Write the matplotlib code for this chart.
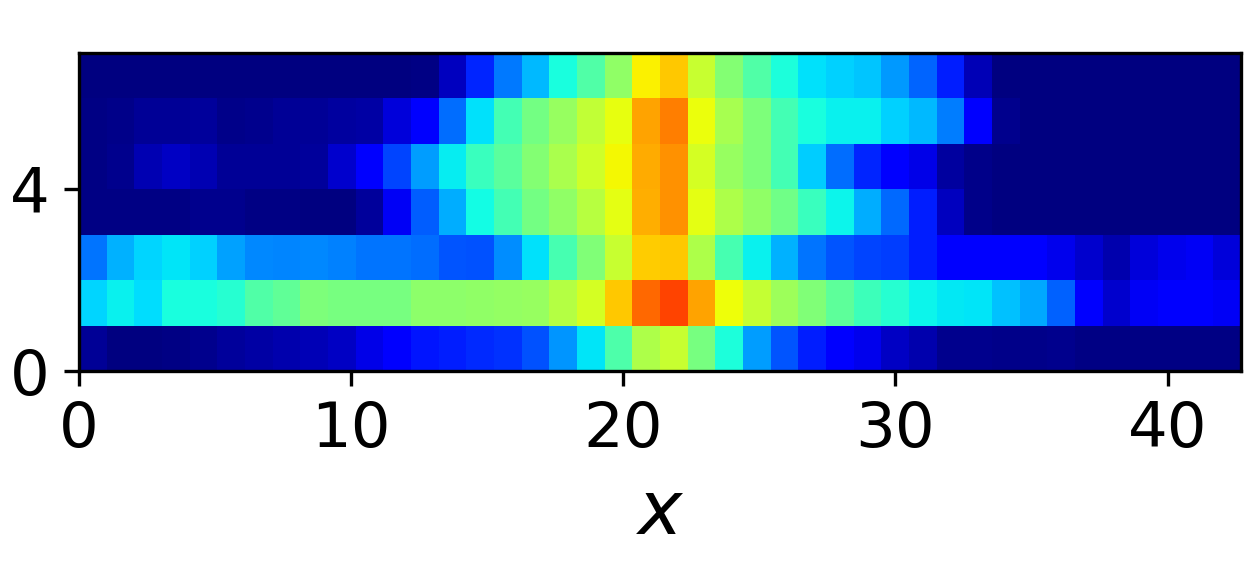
import matplotlib
matplotlib.use("Agg")
import matplotlib.pyplot as plt
import numpy as np

# values, as fractions of the colour scale
row_0 = [.02, 0, 0, .005, .015, .025, .035, .04, .05, .06, .09, .11, .145, .155, .165, .175, .205, .27, .35, .445, .56,
         .593, .495, .385, .28, .21, .155, .11, .095, .06, .04, .015, .015, .01, .01, .012, .005, .005, .005, .005, .005, .005]
row_1 = [.335, .36, .34, .38, .38, .395, .447, .465, .5, .495, .495, .495, .52, .52, .525, .53, .535, .567, .608, .698, .80,
         .836, .735, .64, .588, .54, .505, .462, .425, .395, .365, .355, .35, .315, .29, .22, .11, .07, .105, .11, .11, .105]
row_2 = [.24, .30, .335, .35, .33, .285, .26, .255, .26, .25, .24, .24, .233, .21, .205, .265, .345, .435, .505, .593, .695,
         .698, .56, .435, .36, .30, .24, .21, .195, .185, .155, .115, .11, .11, .11, .095, .07, .04, .08, .095, .105, .08]
row_3 = [.005, .005, .005, .005, .015, .015, .005, .005, 0, 0, .025, .105, .215, .295, .372, .43, .49, .525, .572, .625, .725,
         .757, .625, .562, .525, .485, .42, .366, .295, .23, .155, .055, .01, 0, 0, 0, 0, 0, 0, 0, 0, 0]
row_4 = [.005, .015, .045, .06, .045, .02, .02, .02, .025, .07, .11, .195, .28, .358, .42, .46, .51, .557, .598, .648, .73,
         .757, .608, .535, .5, .43, .325, .233, .164, .115, .09, .03, .01, 0, 0, 0, 0, 0, 0, 0, 0, 0]
row_5 = [.005, .01, .02, .02, .025, .01, .015, .02, .02, .03, .035, .08, .115, .233, .346, .43, .49, .535, .583, .63, .735,
         .777, .635, .552, .5, .43, .38, .362, .362, .33, .306, .248, .11, .015, 0, 0, 0, 0, 0, 0, 0, 0]
row_6 = [0, 0, 0, 0, 0, 0, 0, 0, 0, 0, 0, 0, .005, .055, .164, .243, .306, .38, .447, .526, .656,
         .698, .593, .51, .447, .385, .346, .33, .32, .275, .223, .154, .05, 0, 0, 0, 0, 0, 0, 0, 0, 0]

x_end = 42.7
x_ticks = [0, 10, 20, 30, 40]
y_ticks = [0, 4]

grid = np.array([row_0, row_1, row_2, row_3, row_4, row_5, row_6])
x_edges = np.linspace(0, x_end, grid.shape[1] + 1)
y_edges = np.arange(grid.shape[0] + 1)

fig = plt.figure(figsize=(1250 / 300, 580 / 300), dpi=300)
ax = fig.add_axes([79 / 1250, 1 - 371 / 580, 1162 / 1250, 318 / 580])
ax.pcolormesh(x_edges, y_edges, grid, cmap="jet", vmin=0, vmax=1)
ax.set_xlim(0, x_end)
ax.set_ylim(0, 7)
ax.set_xticks(x_ticks)
ax.set_yticks(y_ticks)
ax.tick_params(labelsize=15)
ax.set_xlabel("$x$", fontsize=18)

fig.savefig("out.png", dpi=300)
